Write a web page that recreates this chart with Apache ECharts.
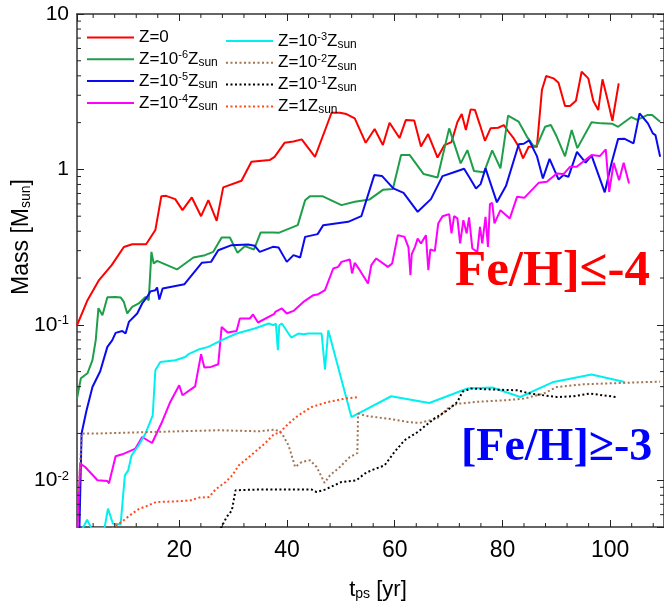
<!DOCTYPE html>
<html><head><meta charset="utf-8">
<script src="https://cdn.jsdelivr.net/npm/echarts@6/dist/echarts.min.js"></script>
<style>html,body{margin:0;padding:0;background:#fff}#c{width:664px;height:604px}</style>
</head><body><div id="c"></div>
<script>
// ---------- data ----------
const seriesNames = ['Z=0','Z=1e-6 Zsun','Z=1e-5 Zsun','Z=1e-4 Zsun','Z=1e-3 Zsun','Z=1e-2 Zsun','Z=1e-1 Zsun','Z=1 Zsun'];
const legendLabels = ['Z=0','Z=10{sup|-6}Z{sub|sun}','Z=10{sup|-5}Z{sub|sun}','Z=10{sup|-4}Z{sub|sun}',
  'Z=10{sup|-3}Z{sub|sun}','Z=10{sup|-2}Z{sub|sun}','Z=10{sup|-1}Z{sub|sun}','Z=1Z{sub|sun}'];

const z0 = [[1.0,0.099],[2.95,0.144],[5.09,0.194],[7.44,0.242],[9.70,0.317],[11.25,0.330],[13.84,0.330],[15.55,0.407],[16.66,0.673],[17.53,0.676],[19.24,0.644],[20.59,0.547],[22.32,0.660],[24.04,0.500],[25.39,0.634],[26.94,0.467],[28.15,0.766],[31.55,0.845],[33.39,1.119],[36.77,1.148],[37.69,1.205],[39.54,1.483],[41.20,1.514],[42.73,1.561],[45.20,1.205],[48.27,2.315],[49.82,2.315],[51.03,2.271],[52.58,2.130],[54.61,1.483],[56.27,1.818],[57.80,1.434],[59.04,1.995],[60.89,1.591],[62.05,2.077],[63.62,2.062],[64.87,1.406],[66.20,1.688],[67.95,1.191],[69.24,1.434],[70.54,1.499],[71.64,2.016],[72.44,2.271],[73.21,1.791],[74.10,2.434],[74.91,2.409],[75.83,1.929],[76.75,1.528],[77.79,1.837],[79.21,1.853],[80.26,1.929],[81.00,1.773],[82.10,1.583],[83.03,1.398],[83.82,1.177],[84.87,1.398],[86.40,1.398],[87.33,3.240],[88.12,3.989],[89.48,3.855],[90.41,3.611],[91.62,2.556],[92.55,2.556],[93.65,2.765],[94.71,4.251],[95.94,3.855],[96.86,2.765],[97.79,2.409],[98.58,3.797],[99.45,2.866],[100.42,2.056],[101.59,3.579]];

const z6 = [[1.0,0.0337],[1.72,0.0453],[2.95,0.0488],[3.87,0.0592],[4.48,0.0796],[4.98,0.128],[5.72,0.1153],[6.64,0.1506],[8.17,0.1512],[9.10,0.150],[9.70,0.1404],[10.33,0.1183],[11.25,0.1304],[12.47,0.1372],[13.71,0.1512],[14.32,0.144],[14.82,0.2947],[15.24,0.2481],[15.87,0.2579],[19.56,0.2271],[22.62,0.2713],[24.78,0.2807],[26.31,0.2947],[27.86,0.3648],[29.39,0.3648],[30.81,0.2904],[32.16,0.3207],[33.87,0.3053],[35.11,0.3929],[37.56,0.3929],[38.43,0.3906],[41.99,0.4378],[43.36,0.634],[44.28,0.673],[46.55,0.673],[50.11,0.589],[52.58,0.619],[55.35,0.641],[57.80,0.739],[59.65,0.747],[61.18,1.236],[62.79,1.236],[65.37,0.933],[67.95,0.888],[70.11,1.837],[72.25,1.093],[73.49,1.331],[74.72,0.975],[76.57,0.958],[78.10,1.325],[79.63,1.015],[81.05,2.221],[82.99,2.031],[84.56,1.621],[85.79,1.413],[86.40,1.423],[87.93,1.881],[88.99,1.929],[90.09,1.621],[91.62,1.213],[92.86,1.791],[93.91,1.371],[96.55,2.010],[98.39,1.978],[100.42,1.966],[101.48,1.881],[103.94,2.172],[105.00,2.086],[106.88,2.237],[107.80,2.237],[109.28,2.025]];

const z5 = [[1.45,0.0049],[1.85,0.0200],[2.73,0.0278],[3.87,0.0398],[5.31,0.0503],[6.64,0.0721],[7.56,0.0796],[8.17,0.0887],[9.41,0.0913],[10.02,0.0879],[10.63,0.1044],[12.18,0.1183],[13.10,0.1372],[14.02,0.1512],[14.63,0.1641],[15.55,0.167],[15.87,0.1739],[16.29,0.1455],[16.90,0.1713],[20.96,0.1826],[24.17,0.2504],[25.89,0.2541],[27.23,0.3021],[29.70,0.3256],[32.77,0.3290],[34.00,0.3222],[34.93,0.2947],[37.38,0.3174],[38.43,0.3146],[39.96,0.2541],[41.20,0.2807],[42.44,0.2713],[43.36,0.3681],[45.68,0.3832],[46.73,0.4378],[51.35,0.460],[53.80,0.500],[56.20,0.919],[57.62,0.908],[59.74,0.7545],[61.64,0.7068],[64.26,0.5333],[66.72,0.644],[68.87,0.9055],[70.72,0.951],[72.88,1.009],[73.99,0.875],[75.09,0.7545],[75.94,0.804],[76.86,1.015],[78.97,0.614],[80.65,0.781],[83.03,1.451],[83.95,1.462],[84.96,1.537],[86.40,1.218],[87.51,0.875],[88.75,1.170],[90.41,0.862],[91.33,0.919],[92.25,0.896],[93.84,1.298],[95.44,1.106],[96.55,1.227],[99.00,0.712],[100.24,1.093],[101.48,1.572],[102.69,1.574],[104.34,1.470],[105.46,2.294],[107.01,1.978],[107.93,1.705],[108.41,1.663],[109.28,1.205]];

const z4 = [[1.1,0.0049],[1.59,0.0128],[2.51,0.01216],[3.56,0.01113],[4.80,0.00999],[6.64,0.00988],[6.94,0.00955],[8.17,0.01425],[9.41,0.01468],[11.86,0.01598],[13.10,0.01897],[14.94,0.01736],[16.79,0.0237],[18.32,0.0319],[19.98,0.0408],[20.59,0.0352],[22.93,0.0402],[24.04,0.0647],[24.65,0.0531],[25.89,0.0536],[27.23,0.0557],[27.86,0.0969],[28.97,0.0892],[30.63,0.0913],[31.24,0.1098],[33.08,0.1098],[33.69,0.1165],[34.61,0.1035],[37.56,0.117],[37.82,0.1211],[39.04,0.1274],[39.96,0.1183],[41.20,0.1229],[43.04,0.1404],[44.89,0.1551],[45.81,0.1574],[47.05,0.167],[48.58,0.2304],[49.50,0.2359],[50.11,0.2541],[51.66,0.2634],[52.08,0.2140],[52.58,0.2504],[53.51,0.2247],[55.04,0.1845],[55.65,0.242],[56.57,0.2673],[58.73,0.2359],[59.52,0.2481],[60.57,0.3775],[61.81,0.3681],[62.55,0.3146],[62.92,0.2087],[63.15,0.2849],[63.76,0.3174],[64.26,0.3594],[64.87,0.3339],[65.79,0.3775],[66.24,0.2247],[66.61,0.3053],[67.45,0.299],[68.08,0.449],[68.87,0.500],[70.11,0.5154],[70.54,0.3872],[71.03,0.500],[71.64,0.4836],[72.14,0.3339],[72.75,0.4716],[73.36,0.3872],[73.80,0.4908],[74.41,0.3099],[75.33,0.2947],[75.83,0.4271],[76.25,0.3339],[76.86,0.4952],[77.31,0.3174],[77.68,0.5977],[78.10,0.6093],[78.52,0.449],[79.63,0.5469],[81.37,0.4836],[82.71,0.6661],[84.06,0.6563],[86.72,0.8198],[88.25,0.832],[90.09,0.9424],[91.33,0.933],[92.55,1.039],[93.78,1.039],[96.55,1.236],[98.08,1.218],[99.19,1.345],[99.82,0.7175],[100.66,1.103],[101.66,0.853],[102.51,1.103],[103.51,0.8125]];

const z3 = [[1.5,0.0045],[2.88,0.00557],[3.69,0.0049],[6.1,0.0049],[6.75,0.00656],[7.68,0.00525],[9.10,0.0052],[9.89,0.01075],[10.52,0.01158],[11.13,0.01446],[12.47,0.01678],[13.71,0.01997],[15.06,0.02618],[15.55,0.0510],[16.48,0.0577],[19.24,0.0592],[21.09,0.0621],[21.70,0.0647],[23.54,0.0693],[25.39,0.0721],[27.86,0.0796],[30.63,0.0879],[34.00,0.0947],[36.59,0.102],[37.51,0.0994],[37.93,0.102],[38.30,0.0686],[38.56,0.0994],[39.04,0.102],[40.77,0.0828],[42.12,0.0879],[43.04,0.087],[43.97,0.0879],[46.42,0.0879],[47.05,0.0516],[47.66,0.0923],[51.96,0.0255],[59.34,0.0347],[66.42,0.0314],[73.49,0.0389],[78.10,0.0395],[83.32,0.0343],[89.49,0.0429],[96.55,0.0479],[102.69,0.0429]];

const z2 = [[1.3,0.0085],[1.90,0.01995],[5.22,0.0200],[12.60,0.02034],[19.98,0.02065],[27.36,0.02096],[34.74,0.02065],[37.82,0.02118],[39.04,0.0200],[40.28,0.01678],[41.51,0.01216],[42.73,0.01310],[44.28,0.01343],[45.50,0.01216],[46.97,0.00962],[47.97,0.01075],[49.82,0.01216],[51.66,0.01410],[53.06,0.01496],[53.19,0.02684],[55.04,0.02579],[58.73,0.02492],[62.42,0.0237],[64.58,0.02335],[66.11,0.02405],[67.95,0.02504],[69.80,0.0289],[71.64,0.03103],[74.97,0.0319],[80.51,0.0327],[83.95,0.0335],[87.64,0.0361],[90.09,0.0398],[95.02,0.0414],[102.40,0.0423],[109.28,0.0431]];

const z1 = [[27.7,0.0049],[28.78,0.00579],[29.76,0.0064],[30.44,0.00861],[34.00,0.0087],[37.69,0.0087],[44.58,0.0087],[45.50,0.00839],[47.05,0.0087],[50.11,0.00974],[52.88,0.00999],[54.43,0.01103],[55.65,0.01158],[58.12,0.01247],[59.96,0.0152],[61.81,0.01807],[64.26,0.02043],[67.34,0.02492],[69.80,0.02819],[71.64,0.0319],[72.56,0.037],[74.10,0.0389],[78.41,0.0383],[82.71,0.0379],[85.17,0.0361],[90.09,0.0343],[93.17,0.0347],[96.24,0.0361],[101.16,0.0343]];

const zsun = [[7.5,0.0049],[9.23,0.00538],[11.37,0.00615],[12.60,0.00656],[13.84,0.00679],[15.68,0.00724],[19.37,0.00731],[22.14,0.00742],[23.67,0.00773],[25.52,0.00779],[26.75,0.00874],[28.60,0.00974],[29.82,0.01075],[31.05,0.01247],[32.58,0.01377],[35.85,0.0172],[37.69,0.01995],[38.43,0.01995],[40.28,0.02315],[42.12,0.02618],[44.58,0.0296],[47.66,0.0319],[50.74,0.0335],[53.19,0.0343]];

const xMinorTicks = [4,8,12,16,24,28,32,36,44,48,52,56,64,68,72,76,84,88,92,96,104,108];
const yMinorTicks = [0.006,0.007,0.008,0.009,0.02,0.03,0.04,0.05,0.06,0.07,0.08,0.09,0.2,0.3,0.4,0.5,0.6,0.7,0.8,0.9,2,3,4,5,6,7,8,9];

const X_MIN = 1, X_MAX = 110, Y_MIN = 0.005, Y_MAX = 10;

// ---------- styling ----------
const SANS = '"Liberation Sans Narrow","Liberation Sans",Arial,sans-serif';
const SERIF = '"Liberation Serif","Times New Roman",serif';
const colors = ['#ff0000','#1f9e4a','#0a0af0','#ff00ff','#00f0f0','#a47452','#000000','#ff4a1a'];
const lineTypes = ['solid','solid','solid','solid','solid',[2,2.5],[2,2.5],[2,2.5]];
const datasets = [z0,z6,z5,z4,z3,z2,z1,zsun];

const rich = {
  sup: {fontSize: 11, lineHeight: 11, verticalAlign: 'top', fontFamily: SANS, color: '#000'},
  sub: {fontSize: 12, lineHeight: 13, verticalAlign: 'bottom', fontFamily: SANS, color: '#000'}
};

const chart = echarts.init(document.getElementById('c'), null, {renderer: 'canvas'});

const lineSeries = datasets.map((d, i) => ({
  name: seriesNames[i], type: 'line', data: d, symbol: 'none', showSymbol: false,
  xAxisIndex: 0, yAxisIndex: 0, animation: false, z: 3,
  lineStyle: {color: colors[i], width: 2, type: lineTypes[i]},
  itemStyle: {color: colors[i]}
}));

const tickStyle = {stroke: '#222', lineWidth: 1};
const minorX = {
  type: 'custom', xAxisIndex: 0, yAxisIndex: 0, silent: true, animation: false, z: 5,
  data: xMinorTicks.map(v => [v, Y_MIN]),
  renderItem: (p, api) => {
    const v = api.value(0);
    const b = api.coord([v, Y_MIN]), t = api.coord([v, Y_MAX]);
    return {type: 'group', children: [
      {type: 'line', shape: {x1: b[0], y1: b[1], x2: b[0], y2: b[1] - 4}, style: tickStyle},
      {type: 'line', shape: {x1: t[0], y1: t[1], x2: t[0], y2: t[1] + 4}, style: tickStyle}
    ]};
  }
};
const minorY = {
  type: 'custom', xAxisIndex: 0, yAxisIndex: 0, silent: true, animation: false, z: 5,
  data: yMinorTicks.map(v => [X_MIN, v]),
  renderItem: (p, api) => {
    const v = api.value(1);
    const l = api.coord([X_MIN, v]), r = api.coord([X_MAX, v]);
    return {type: 'group', children: [
      {type: 'line', shape: {x1: l[0], y1: l[1], x2: l[0] + 4, y2: l[1]}, style: tickStyle},
      {type: 'line', shape: {x1: r[0], y1: r[1], x2: r[0] - 4, y2: r[1]}, style: tickStyle}
    ]};
  }
};

const axisLine = {show: true, onZero: false, lineStyle: {color: '#333', width: 1.5}};
const majorTick = {show: true, inside: true, length: 7, lineStyle: {color: '#222', width: 1}};

function yLabel(v) {
  const e = Math.round(Math.log10(v));
  if (e === 0) return '1';
  if (e === 1) return '10';
  return '10{sup|' + e + '}';
}

const legendBase = {
  orient: 'vertical', itemWidth: 47, itemHeight: 14, itemGap: 2.8, padding: 0, selectedMode: false,
  itemStyle: {color: 'rgba(0,0,0,0)', borderWidth: 0, opacity: 0},
  formatter: name => legendLabels[seriesNames.indexOf(name)],
  textStyle: {fontSize: 17, lineHeight: 19, fontFamily: SANS, color: '#000', rich: rich}
};

chart.setOption({
  animation: false,
  backgroundColor: '#fff',
  grid: {left: 77, top: 14, width: 591, height: 513, containLabel: false},
  xAxis: [
    {type: 'value', min: X_MIN, max: X_MAX, position: 'bottom', minInterval: 20, maxInterval: 20,
     axisLine: axisLine, axisTick: majorTick, splitLine: {show: false},
     axisLabel: {fontSize: 23, fontFamily: SANS, color: '#000', margin: 12, showMinLabel: false, showMaxLabel: false}},
    {type: 'value', min: X_MIN, max: X_MAX, position: 'top', minInterval: 20, maxInterval: 20,
     axisLine: axisLine, axisTick: majorTick, splitLine: {show: false}, axisLabel: {show: false}}
  ],
  yAxis: [
    {type: 'log', logBase: 10, min: Y_MIN, max: Y_MAX, position: 'left',
     axisLine: axisLine, axisTick: majorTick, splitLine: {show: false},
     axisLabel: {fontSize: 21, fontFamily: SANS, color: '#000', margin: 8, showMinLabel: false,
       formatter: yLabel, rich: {sup: {fontSize: 13, lineHeight: 12, verticalAlign: 'top', fontFamily: SANS, color: '#000'}}}},
    {type: 'log', logBase: 10, min: Y_MIN, max: Y_MAX, position: 'right',
     axisLine: axisLine, axisTick: majorTick, splitLine: {show: false}, axisLabel: {show: false}}
  ],
  legend: [
    Object.assign({}, legendBase, {data: seriesNames.slice(0, 4), left: 86, top: 28}),
    Object.assign({}, legendBase, {data: seriesNames.slice(4), left: 225, top: 31.5})
  ],
  graphic: [
    {type: 'text', x: 22, y: 237, rotation: Math.PI / 2, silent: true,
     style: {text: 'Mass [M{sub|sun}]', fontSize: 23, fontFamily: SANS, fill: '#000', align: 'center', verticalAlign: 'middle',
       rich: {sub: {fontSize: 14, lineHeight: 14, verticalAlign: 'bottom', fontFamily: SANS, fill: '#000'}}}},
    {type: 'text', x: 378, y: 590, silent: true,
     style: {text: 't{sub|ps} [yr]', fontSize: 22, fontFamily: SANS, fill: '#000', align: 'center', verticalAlign: 'middle',
       rich: {sub: {fontSize: 14, lineHeight: 14, verticalAlign: 'bottom', fontFamily: SANS, fill: '#000'}}}},
    {type: 'text', x: 455, y: 272, silent: true, z: 10,
     style: {text: 'Fe/H]\u2264-4', font: 'bold 51px ' + SERIF, fill: '#ff0000', align: 'left', verticalAlign: 'middle'}},
    {type: 'text', x: 461, y: 448, silent: true, z: 10,
     style: {text: '[Fe/H]\u2265-3', font: 'bold 46px ' + SERIF, fill: '#0000ff', align: 'left', verticalAlign: 'middle'}}
  ],
  series: lineSeries.concat([minorX, minorY])
});
</script></body></html>
